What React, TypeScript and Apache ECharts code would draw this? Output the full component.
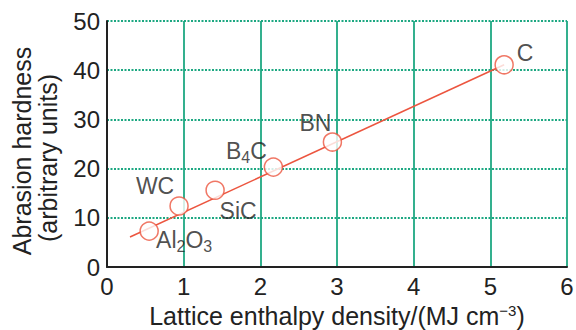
import React, { useEffect, useRef } from "react";
import * as echarts from "echarts";

const materials = ["Al2O3", "WC", "SiC", "B4C", "BN", "C"];
const latticeEnthalpy = [0.55, 0.94, 1.41, 2.17, 2.94, 5.18];
const abrasionHardness = [7.3, 12.4, 15.6, 20.3, 25.4, 41.1];
const fitX = [0.3, 5.18];
const fitY = [6.1, 41.1];
const labelTexts = ["Al{sub|2}O{sub|3}", "WC", "SiC", "B{sub|4}C", "BN", "C"];
const labelOffsets: [number, number][] = [
  [35, 9],
  [-24, -20],
  [23, 21],
  [-27, -16],
  [-17, -19],
  [21, -12],
];
const yTitleLines = ["Abrasion hardness", "(arbitrary units)"];
const xTitle = "Lattice enthalpy density/(MJ cm{sup|−3})";

const FONT = "Liberation Sans";
const RED = "#ec553f";
const GREEN = "#1da882";
const INK = "#222";

export default function App() {
  const ref = useRef<HTMLDivElement>(null);
  useEffect(() => {
    document.body.style.margin = "0";
    if (!ref.current) return;
    const chart = echarts.init(ref.current, undefined, { renderer: "svg" });
    chart.setOption({
      animation: false,
      backgroundColor: "#ffffff",
      grid: { left: 107, right: 9, top: 21, bottom: 63, containLabel: false, outerBoundsMode: "none" },
      graphic: [
        {
          type: "text",
          x: 22,
          y: 151,
          rotation: Math.PI / 2,
          style: { text: yTitleLines[0], fontFamily: FONT, fontSize: 25, fill: INK, align: "center", verticalAlign: "middle" },
        },
        {
          type: "text",
          x: 48,
          y: 158,
          rotation: Math.PI / 2,
          style: { text: yTitleLines[1], fontFamily: FONT, fontSize: 25, fill: INK, align: "center", verticalAlign: "middle" },
        },
      ],
      xAxis: {
        type: "value",
        min: 0,
        max: 6,
        interval: 1,
        name: xTitle,
        nameLocation: "middle",
        nameGap: 35,
        nameTextStyle: {
          fontFamily: FONT,
          fontSize: 25,
          lineHeight: 26,
          color: INK,
          rich: {
            sup: { fontFamily: FONT, fontSize: 15, lineHeight: 15, color: INK, verticalAlign: "top" },
          },
        },
        axisLine: { show: true, lineStyle: { color: INK, width: 2 } },
        axisTick: { show: false },
        axisLabel: { fontFamily: FONT, fontSize: 24, color: INK, margin: 7 },
        splitLine: { show: true, lineStyle: { color: GREEN, width: 1.8, type: "solid" } },
      },
      yAxis: {
        type: "value",
        min: 0,
        max: 50,
        interval: 10,
        axisLine: { show: true, lineStyle: { color: INK, width: 2 } },
        axisTick: { show: false },
        axisLabel: { fontFamily: FONT, fontSize: 24, color: INK, margin: 7 },
        splitLine: { show: true, lineStyle: { color: GREEN, width: 2, type: [2, 1.5] } },
      },
      series: [
        {
          type: "line",
          data: fitX.map((x, i) => [x, fitY[i]]),
          symbol: "none",
          lineStyle: { color: RED, width: 1.5 },
          z: 2,
        },
        {
          type: "scatter",
          data: latticeEnthalpy.map((x, i) => ({
            value: [x, abrasionHardness[i]],
            name: materials[i],
            label: {
              show: true,
              position: "inside",
              offset: labelOffsets[i],
              formatter: labelTexts[i],
            },
          })),
          symbol: "circle",
          symbolSize: 18,
          itemStyle: { color: "#ffffff", borderColor: RED, borderWidth: 1.5 },
          label: {
            fontFamily: FONT,
            fontSize: 23,
            color: INK,
            rich: {
              sub: { fontFamily: FONT, fontSize: 16, color: INK, verticalAlign: "bottom", padding: [12, 0, 0, 0] },
            },
          },
          z: 3,
        },
      ],
    });
    return () => chart.dispose();
  }, []);
  return <div ref={ref} style={{ width: 576, height: 330 }} />;
}
